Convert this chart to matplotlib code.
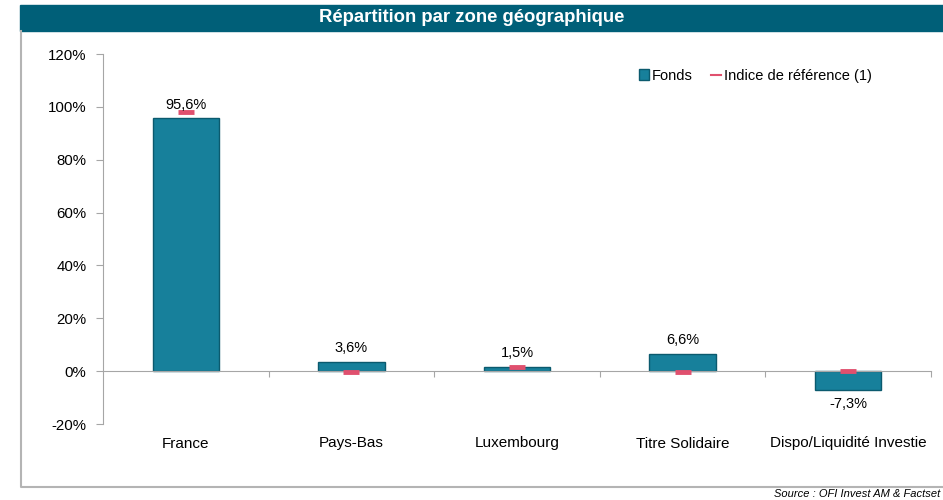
import numpy as np
import matplotlib.pyplot as plt
from matplotlib.patches import Rectangle
from matplotlib.lines import Line2D
from matplotlib.ticker import FuncFormatter

plt.rcParams['font.family'] = ['Liberation Sans', 'DejaVu Sans']

categories = ["France", "Pays-Bas", "Luxembourg", "Titre Solidaire", "Dispo/Liquidité Investie"]
fonds = [95.6, 3.6, 1.5, 6.6, -7.3]
indice = [98.2, -0.3, 1.5, -0.3, 0.0]
fonds_labels = ["95,6%", "3,6%", "1,5%", "6,6%", "-7,3%"]

BAR_COLOR = "#17809b"
BAR_EDGE = "#0b5a6e"
REF_COLOR = "#e0506e"
HEAD_COLOR = "#005f78"
GRAY = "#a6a6a6"

fig = plt.figure(figsize=(9.43, 5.0), dpi=100)

# header bar + frame
fig.patches.append(Rectangle((20 / 943, 1 - 31 / 500), 1 - 20 / 943, 26 / 500,
                             transform=fig.transFigure, color=HEAD_COLOR, zorder=0))
fig.text(0.5005, 1 - 18 / 500, "Répartition par zone géographique", color="white",
         fontsize=13.3, fontweight="bold", ha="center", va="center")
fig.lines.append(Line2D([21 / 943, 21 / 943, 1], [1 - 31 / 500, 1 - 487 / 500, 1 - 487 / 500],
                        transform=fig.transFigure, color="#b4b4b4", lw=1.5))
fig.text(940 / 943, 1 - 494 / 500, "Source : OFI Invest AM & Factset", fontsize=8,
         style="italic", ha="right", va="center")

ax = fig.add_axes([103 / 943, 1 - 424 / 500, 828 / 943, 370 / 500])
x = np.arange(len(categories))

ax.bar(x, fonds, width=0.4, color=BAR_COLOR, edgecolor=BAR_EDGE, linewidth=1.0,
       label="Fonds", zorder=2)
ax.plot(x, indice, linestyle="none", marker="_", markersize=12, markeredgewidth=3.5,
        color=REF_COLOR, zorder=3)

for xi, v, lab in zip(x, fonds, fonds_labels):
    off = 5 if v >= 0 else -5
    ax.annotate(lab, (xi, v), xytext=(0, off), textcoords="offset points",
                ha="center", va="bottom" if v >= 0 else "top", fontsize=10.5)

ax.set_xlim(-0.5, len(categories) - 0.5)
ax.set_ylim(-20, 120)
ax.set_yticks(np.arange(-20, 121, 20))
ax.yaxis.set_major_formatter(FuncFormatter(lambda v, p: f"{v:.0f}%"))

for s in ["top", "right"]:
    ax.spines[s].set_visible(False)
ax.spines["left"].set_color(GRAY)
ax.spines["bottom"].set_color(GRAY)
ax.spines["bottom"].set_position(("data", 0))
ax.tick_params(axis="y", colors=GRAY, labelcolor="black", labelsize=10.8, length=5, pad=7)
ax.set_xticks(list(x[1:] - 0.5) + [len(categories) - 0.5])
ax.tick_params(axis="x", colors=GRAY, length=4, labelbottom=False)

sec = ax.secondary_xaxis(0.0)
sec.set_xticks(x)
sec.set_xticklabels(categories)
sec.spines["bottom"].set_visible(False)
sec.tick_params(length=0, labelsize=11, pad=9)

handles = [Rectangle((0, 0), 1, 1, facecolor=BAR_COLOR, edgecolor=BAR_EDGE),
           Line2D([], [], color=REF_COLOR, lw=1.5)]
ax.legend(handles, ["Fonds", "Indice de référence (1)"], loc="upper right",
          bbox_to_anchor=(0.944, 0.996), ncol=2, frameon=False, fontsize=10.5,
          handlelength=0.7, handleheight=0.7, handletextpad=0.2, columnspacing=1.2)

fig.savefig("out.png", dpi=100)
